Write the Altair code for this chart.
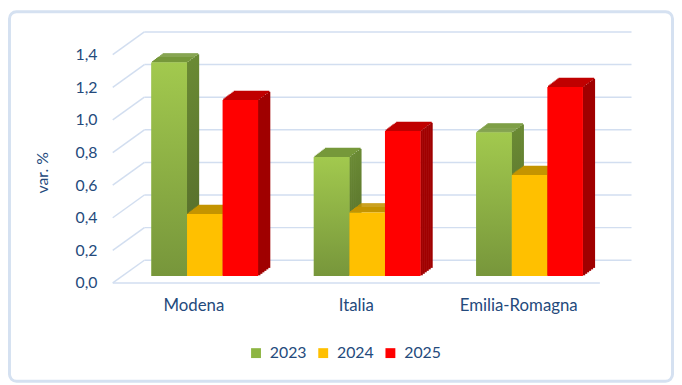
import altair as alt
import pandas as pd

categories = ["Modena", "Italia", "Emilia-Romagna"]
years = ["2023", "2024", "2025"]
v2023 = [1.31, 0.73, 0.88]
v2024 = [0.38, 0.39, 0.62]
v2025 = [1.08, 0.89, 1.16]
tick_values = [0.0, 0.2, 0.4, 0.6, 0.8, 1.0, 1.2, 1.4]

front_colors = ["#8db542", "#ffc000", "#ff0000"]
top_colors = ["#76983a", "#c49400", "#c00000"]
side_colors = ["#5f7a2e", "#a07800", "#a00000"]
TC = "#244a7c"
GC = "#d2def0"
FONT = "Lato"

rows = []
for i, c in enumerate(categories):
    for y, vals in zip(years, [v2023, v2024, v2025]):
        rows.append({"cat": c, "year": y, "value": vals[i]})
df = pd.DataFrame(rows)
grid = pd.DataFrame({"v": tick_values})

W, H = 493, 231
BW = 36
DX, DY = 11, -7          # bar plane shift
DEPTH_X, DEPTH_Y = 12, 9  # bar depth
WALL_X, WALL_Y = 32, 23   # back wall shift
RATIO = DEPTH_Y / DEPTH_X

xscale = alt.Scale(domain=categories, paddingInner=0.343, paddingOuter=0.1715)
yscale = alt.Scale(domain=[0, 1.4], nice=False, zero=True)

X_AX = alt.Axis(title=None, labelAngle=0, domain=False, ticks=False, grid=False,
                labelFont=FONT, labelFontSize=17, labelColor=TC, labelPadding=15)
Y_AX = alt.Axis(values=tick_values, grid=False, domain=False, ticks=False,
                labelExpr="replace(format(datum.value, '.1f'), '.', ',')",
                labelFont=FONT, labelFontSize=16, labelColor=TC, labelPadding=16,
                title="var. %", titleFont=FONT, titleFontSize=16, titleFontWeight="normal",
                titleColor=TC, titleAngle=-90, titleX=-71, titleY=119,
                titleAlign="center", titleBaseline="middle")

X = alt.X("cat:N", sort=categories, scale=xscale, axis=X_AX)
Y = alt.Y("value:Q", scale=yscale, axis=Y_AX)
YG = alt.Y("v:Q", scale=yscale, axis=Y_AX)

layers = []

# frame
frame = alt.Chart(pd.DataFrame({"a": [0]})).mark_rect(
    fillOpacity=0, stroke="#d5e1f1", strokeWidth=3, cornerRadius=7
).encode(x=alt.value(-104.5), x2=alt.value(566.5), y=alt.value(-43.5), y2=alt.value(330.5))
layers.append(frame)

# back wall grid lines, left wall diagonals, floor edge
wall = alt.Chart(grid).mark_rule(color=GC, strokeWidth=1.5, yOffset=-WALL_Y).encode(
    y=YG, x=alt.value(WALL_X), x2=alt.value(W + WALL_X)
)
diag = alt.Chart(grid).mark_rule(color=GC, strokeWidth=1.5, y2Offset=-WALL_Y).encode(
    y=YG, y2="v:Q", x=alt.value(0), x2=alt.value(WALL_X)
)
floor = alt.Chart(grid).transform_filter("datum.v == 0").mark_rule(color=GC, strokeWidth=1.5).encode(
    y=YG, x=alt.value(0), x2=alt.value(W)
)
layers += [wall, diag, floor]

NS = 6
sw = DEPTH_X / NS
NT = 9
th = DEPTH_Y / NT


def vgrad(c_top, c_bottom):
    return alt.Gradient(
        gradient="linear",
        stops=[alt.GradientStop(color=c_top, offset=0), alt.GradientStop(color=c_bottom, offset=1)],
        x1=0, x2=0, y1=0, y2=1,
    )


green_grad = vgrad("#a2c94e", "#77963b")
green_side_grad = vgrad("#6a8a34", "#53692a")

legend = alt.Legend(orient="none", legendX=137, legendY=294, direction="horizontal",
                    title=None, symbolType="square", symbolSize=100,
                    symbolStrokeWidth=0, labelFont=FONT, labelFontSize=16,
                    labelColor=TC, columnPadding=8, labelOffset=6, padding=0)

for k, yr in enumerate(years):
    base = alt.Chart(df).transform_filter(f"datum.year == '{yr}'")
    bx = DX + (k - 1) * BW  # center shift of this bar's front face
    side_fill = green_side_grad if k == 0 else side_colors[k]
    # side faces (sliced parallelogram)
    for i in range(NS):
        dx = sw * (i + 0.5)
        layers.append(
            base.mark_bar(
                width=sw + 0.6, xOffset=bx + BW / 2 + dx,
                yOffset=DY - RATIO * dx, y2Offset=DY - RATIO * dx,
                fill=side_fill
            ).encode(x=X, y=Y)
        )
    # top faces
    for j in range(NT):
        dy = th * (j + 0.5)
        layers.append(
            base.mark_bar(
                width=BW, xOffset=bx + dy / RATIO,
                yOffset=DY - th * (j + 1) - 0.4, y2Offset=DY - th * j,
                fill=top_colors[k]
            ).encode(x=X, y=Y, y2="value:Q")
        )
    # front face
    layers.append(
        base.mark_bar(width=BW, xOffset=bx, yOffset=DY, y2Offset=DY).encode(
            x=X, y=Y,
            color=alt.Color("year:N", scale=alt.Scale(domain=years, range=front_colors), legend=legend),
        )
    )
    if k == 0:
        layers.append(
            base.mark_bar(width=BW, xOffset=bx, yOffset=DY, y2Offset=DY, fill=green_grad).encode(x=X, y=Y)
        )

chart = alt.layer(*layers).properties(
    width=W, height=H,
    padding={"left": 106, "top": 45, "right": 75, "bottom": 101},
    autosize=alt.AutoSizeParams(type="none"),
    background="white",
).configure_view(stroke=None)

chart.save("out.html", embed_options={"renderer": "svg", "actions": False})
